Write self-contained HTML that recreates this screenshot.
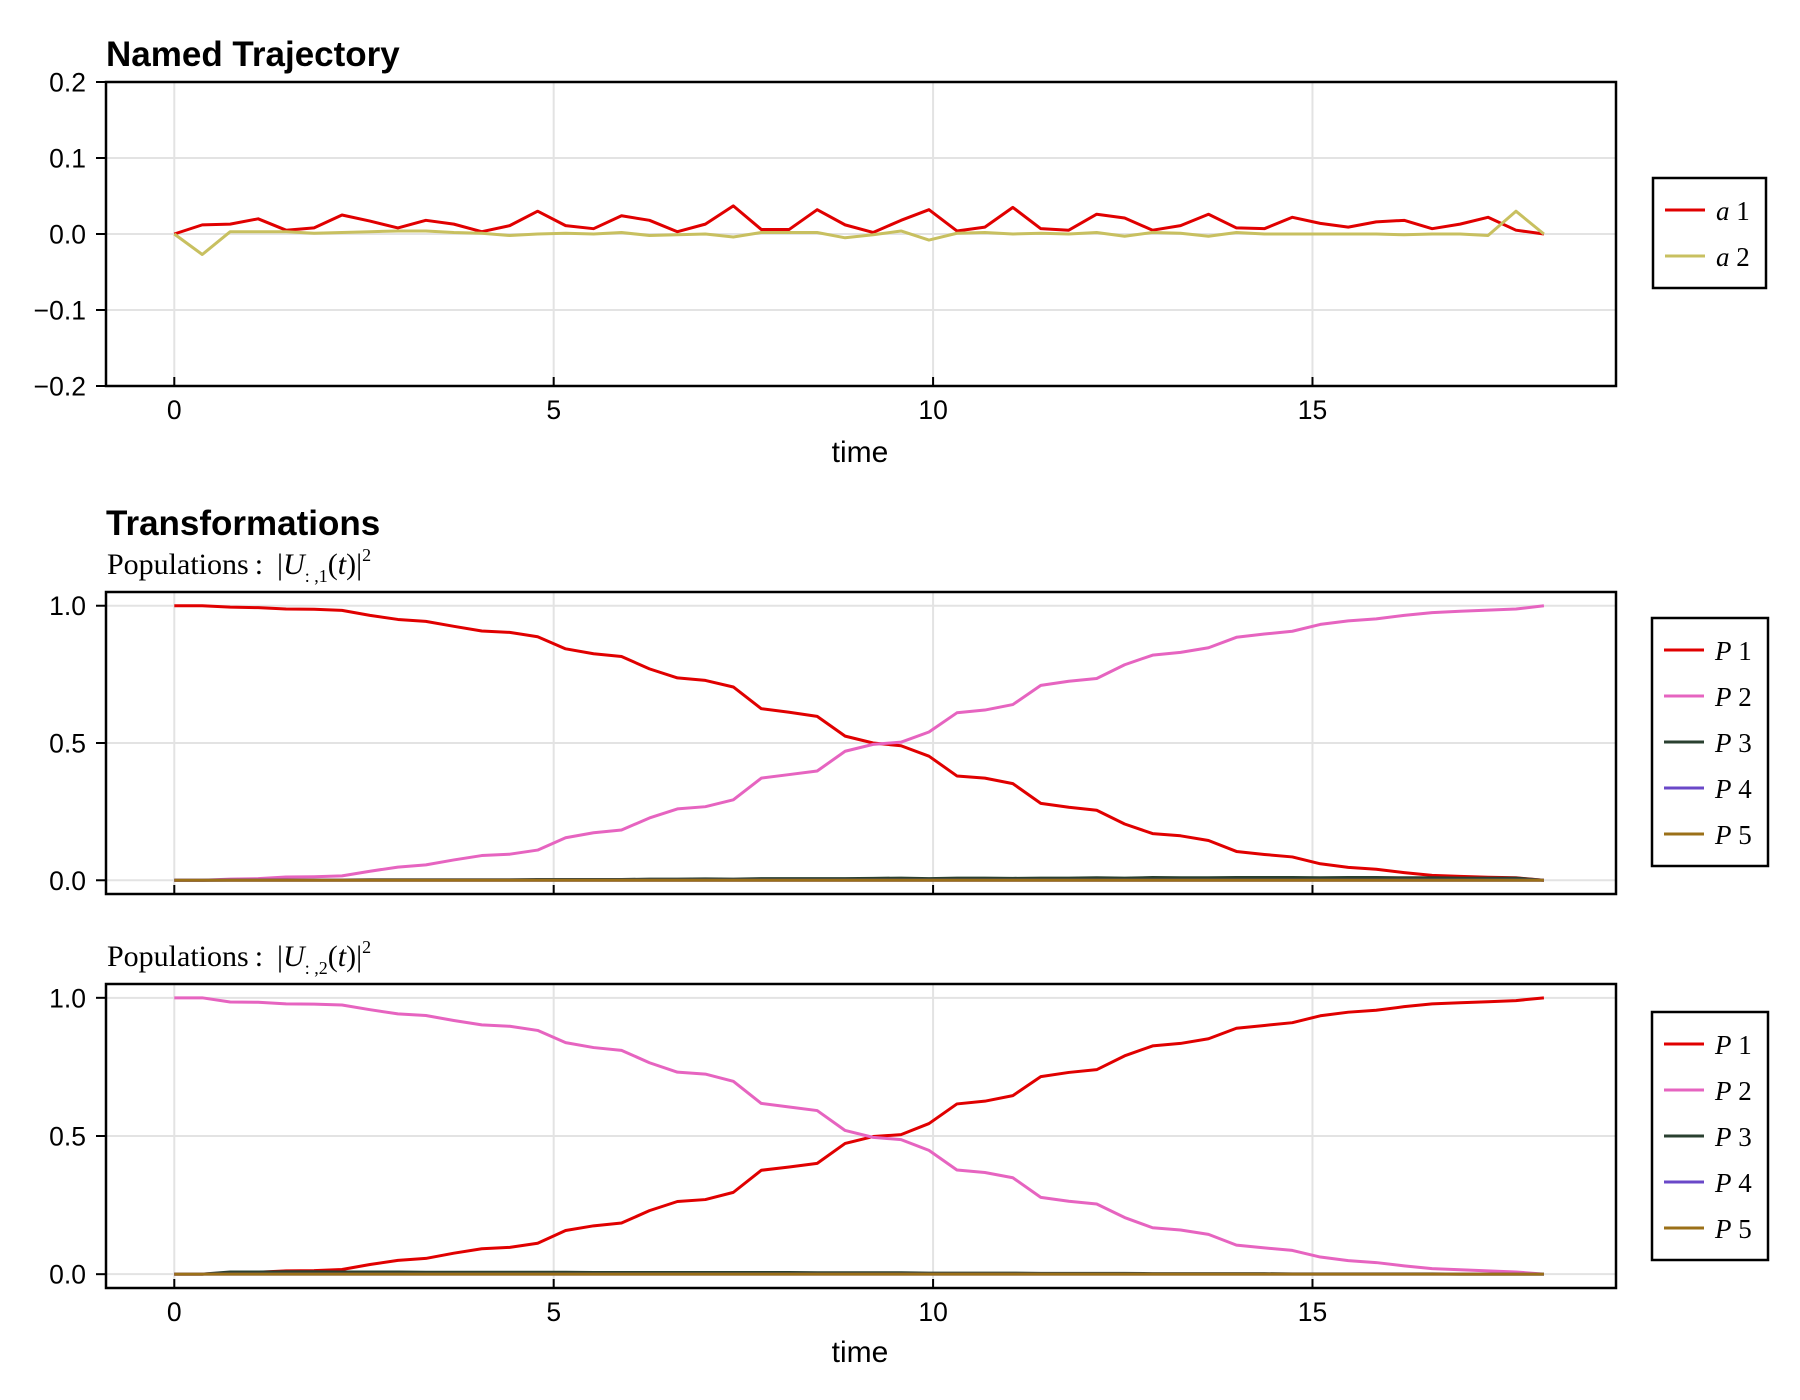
<!DOCTYPE html>
<html><head><meta charset="utf-8"><style>
html,body{margin:0;padding:0;background:#fff;}
svg{display:block;}
.tick{font-family:"Liberation Sans",sans-serif;font-size:26.5px;fill:#000;}
.ttl{font-family:"Liberation Sans",sans-serif;font-size:35px;font-weight:bold;fill:#000;}
.sub{font-family:"Liberation Serif",serif;font-size:30px;fill:#000;}
.lab{font-family:"Liberation Sans",sans-serif;font-size:30px;fill:#000;}
.leg{font-family:"Liberation Serif",serif;font-size:27px;fill:#000;}
</style></head><body>
<svg id="chart" width="1800" height="1400" viewBox="0 0 1800 1400">
<text class="ttl" x="106" y="66">Named Trajectory</text>
<text class="ttl" x="106" y="535">Transformations</text>
<text class="sub" x="107" y="574">Populations<tspan dx="6">:</tspan><tspan dx="14">|</tspan><tspan font-style="italic">U</tspan><tspan font-size="18" dy="8">: ,1</tspan><tspan dy="-8">(</tspan><tspan font-style="italic">t</tspan>)|<tspan font-size="18" dy="-13">2</tspan></text>
<text class="sub" x="107" y="966">Populations<tspan dx="6">:</tspan><tspan dx="14">|</tspan><tspan font-style="italic">U</tspan><tspan font-size="18" dy="8">: ,2</tspan><tspan dy="-8">(</tspan><tspan font-style="italic">t</tspan>)|<tspan font-size="18" dy="-13">2</tspan></text>
<text class="lab" x="860" y="462" text-anchor="middle">time</text>
<text class="lab" x="860" y="1362" text-anchor="middle">time</text>
</svg>
<script>
const NS="http://www.w3.org/2000/svg";
const svg=document.getElementById('chart');
const N=50, T_END=18.05;
const a1=[0,0.012,0.013,0.02,0.005,0.008,0.025,0.017,0.008,0.018,0.013,0.003,0.011,0.03,0.011,0.007,0.024,0.018,0.003,0.013,0.037,0.006,0.006,0.032,0.012,0.002,0.018,0.032,0.004,0.009,0.035,0.007,0.005,0.026,0.021,0.005,0.011,0.026,0.008,0.007,0.022,0.014,0.009,0.016,0.018,0.007,0.013,0.022,0.005,0];
const a2=[0,-0.027,0.003,0.003,0.003,0.001,0.002,0.003,0.004,0.004,0.002,0.001,-0.002,0,0.001,0,0.002,-0.002,-0.001,0,-0.004,0.002,0.002,0.002,-0.005,-0.001,0.004,-0.008,0.001,0.002,0,0.001,0,0.002,-0.003,0.002,0.001,-0.003,0.002,0,0,0,0,0,-0.001,0,0,-0.002,0.03,0];
const u1P1=[1,1,0.995,0.993,0.988,0.987,0.983,0.965,0.95,0.943,0.925,0.908,0.903,0.887,0.843,0.825,0.815,0.77,0.737,0.728,0.704,0.625,0.612,0.597,0.525,0.5,0.49,0.452,0.38,0.372,0.352,0.28,0.266,0.255,0.205,0.17,0.162,0.145,0.105,0.094,0.085,0.06,0.047,0.04,0.028,0.018,0.014,0.011,0.009,0];
const u1P2=[0,0,0.004,0.006,0.012,0.013,0.016,0.033,0.048,0.056,0.074,0.09,0.095,0.11,0.155,0.173,0.183,0.227,0.26,0.268,0.293,0.372,0.385,0.398,0.47,0.495,0.503,0.54,0.61,0.62,0.64,0.71,0.725,0.735,0.785,0.82,0.83,0.847,0.885,0.897,0.907,0.932,0.945,0.952,0.965,0.975,0.98,0.984,0.988,1];
const u1P3=[0,0,0.001,0.001,0.001,0.001,0.001,0.002,0.002,0.002,0.002,0.002,0.002,0.003,0.003,0.003,0.003,0.004,0.004,0.005,0.004,0.006,0.006,0.006,0.006,0.007,0.008,0.006,0.008,0.008,0.007,0.008,0.008,0.009,0.008,0.01,0.009,0.009,0.01,0.01,0.01,0.009,0.01,0.01,0.009,0.009,0.008,0.008,0.008,0];
const u1P4=new Array(50).fill(0);
const u1P5=new Array(50).fill(0);
const u2P1=[0,0,0.005,0.007,0.012,0.013,0.017,0.035,0.05,0.057,0.076,0.092,0.097,0.112,0.158,0.175,0.185,0.23,0.263,0.27,0.296,0.376,0.388,0.401,0.473,0.498,0.505,0.545,0.616,0.626,0.646,0.715,0.73,0.74,0.79,0.826,0.835,0.852,0.89,0.9,0.91,0.935,0.948,0.955,0.968,0.978,0.982,0.986,0.99,1];
const u2P2=[1,1,0.985,0.984,0.978,0.977,0.974,0.957,0.942,0.936,0.918,0.902,0.897,0.882,0.838,0.82,0.81,0.765,0.731,0.724,0.698,0.618,0.605,0.592,0.52,0.495,0.487,0.448,0.377,0.368,0.349,0.278,0.264,0.254,0.205,0.168,0.16,0.144,0.105,0.095,0.086,0.062,0.049,0.042,0.03,0.02,0.016,0.012,0.008,0];
const u2P3=[0,0,0.008,0.008,0.009,0.009,0.008,0.008,0.008,0.007,0.007,0.007,0.007,0.007,0.007,0.006,0.006,0.006,0.006,0.006,0.006,0.006,0.006,0.005,0.005,0.005,0.005,0.004,0.004,0.004,0.004,0.003,0.003,0.003,0.003,0.002,0.002,0.002,0.002,0.002,0.001,0.001,0.001,0.001,0.001,0.001,0,0,0,0];
const u2P4=new Array(50).fill(0);
const u2P5=new Array(50).fill(0);
const xTicks=[0,5,10,15];
const yTicksTop=[0.2,0.1,0,-0.1,-0.2];
const yTickLabelsTop=["0.2","0.1","0.0","\u22120.1","\u22120.2"];
const yTicksPop=[0,0.5,1];
const yTickLabelsPop=["0.0","0.5","1.0"];
const times=[];for(let i=0;i<N;i++)times.push(i*T_END/(N-1));

const XL=106,XR=1616,XMIN=-0.9,XMAX=19.0;
function xs(v){return XL+(v-XMIN)/(XMAX-XMIN)*(XR-XL);}
function el(t,a,p){const e=document.createElementNS(NS,t);for(const k in a)e.setAttribute(k,a[k]);(p||svg).appendChild(e);return e;}

function axis(name,top,bot,ymin,ymax,yt,ytl,showX,series,legend){
  const ys=v=>bot-(v-ymin)/(ymax-ymin)*(bot-top);
  const g=el('g',{});
  
  
  xTicks.forEach(t=>{const l=el('line',{x1:xs(t),x2:xs(t),y1:top,y2:bot,stroke:'#e3e3e3','stroke-width':2},g);
    });
  yt.forEach((t,i)=>{const l=el('line',{x1:XL,x2:XR,y1:ys(t),y2:ys(t),stroke:'#e3e3e3','stroke-width':2},g);
    
    const tk=el('line',{x1:XL-10,x2:XL,y1:ys(t),y2:ys(t),stroke:'#000','stroke-width':2},g);
    
    const tx=el('text',{x:XL-20,y:ys(t)+9.5,'text-anchor':'end',class:'tick'},g);tx.textContent=ytl[i];
    });
  xTicks.forEach(t=>{const tk=el('line',{x1:xs(t),x2:xs(t),y1:bot-9,y2:bot,stroke:'#000','stroke-width':2},g);
    
    if(showX){const tx=el('text',{x:xs(t),y:bot+33,'text-anchor':'middle',class:'tick'},g);tx.textContent=String(t);
      }});
  series.forEach(s=>{const d=s.v.map((v,i)=>(i?'L':'M')+xs(times[i]).toFixed(2)+' '+ys(v).toFixed(2)).join(' ');
    const p=el('path',{d:d,fill:'none',stroke:s.c,'stroke-width':3,'stroke-linejoin':'round'},g);
    });
  const fr=el('rect',{x:XL,y:top,width:XR-XL,height:bot-top,fill:'none',stroke:'#000','stroke-width':2.5},g);
  
  const lg=el('g',{},g);
  
  
  const bx=el('rect',{x:legend.x,y:legend.y,width:legend.w,height:legend.h,fill:'#fff',stroke:'#000','stroke-width':2.5},lg);
  
  series.forEach((s,i)=>{const ry=legend.y+32+i*46;
    const ln=el('line',{x1:legend.x+12,x2:legend.x+52,y1:ry,y2:ry,stroke:s.c,'stroke-width':3},lg);
    
    const tx=el('text',{x:legend.x+63,y:ry+10,class:'leg'},lg);
    tx.innerHTML='<tspan font-style="italic">'+s.l+'</tspan> '+s.k;
    });
}
const C={r:'#e00000',y:'#c8c060',p:'#e664c0',g:'#2a4030',v:'#6a48c8',b:'#9b7018'};
axis('plot-named-trajectory',82,386,-0.2,0.2,yTicksTop,yTickLabelsTop,true,
 [{n:'a1',v:a1,c:C.r,l:'a',k:'1'},{n:'a2',v:a2,c:C.y,l:'a',k:'2'}],{x:1653,y:178,w:113,h:110});
axis('plot-populations-1',592,894,-0.05,1.05,yTicksPop,yTickLabelsPop,false,
 [{n:'p1',v:u1P1,c:C.r,l:'P',k:'1'},{n:'p2',v:u1P2,c:C.p,l:'P',k:'2'},{n:'p3',v:u1P3,c:C.g,l:'P',k:'3'},{n:'p4',v:u1P4,c:C.v,l:'P',k:'4'},{n:'p5',v:u1P5,c:C.b,l:'P',k:'5'}],{x:1652,y:618,w:116,h:248});
axis('plot-populations-2',984,1288,-0.05,1.05,yTicksPop,yTickLabelsPop,true,
 [{n:'p1',v:u2P1,c:C.r,l:'P',k:'1'},{n:'p2',v:u2P2,c:C.p,l:'P',k:'2'},{n:'p3',v:u2P3,c:C.g,l:'P',k:'3'},{n:'p4',v:u2P4,c:C.v,l:'P',k:'4'},{n:'p5',v:u2P5,c:C.b,l:'P',k:'5'}],{x:1652,y:1012,w:116,h:248});
</script>
</body></html>
